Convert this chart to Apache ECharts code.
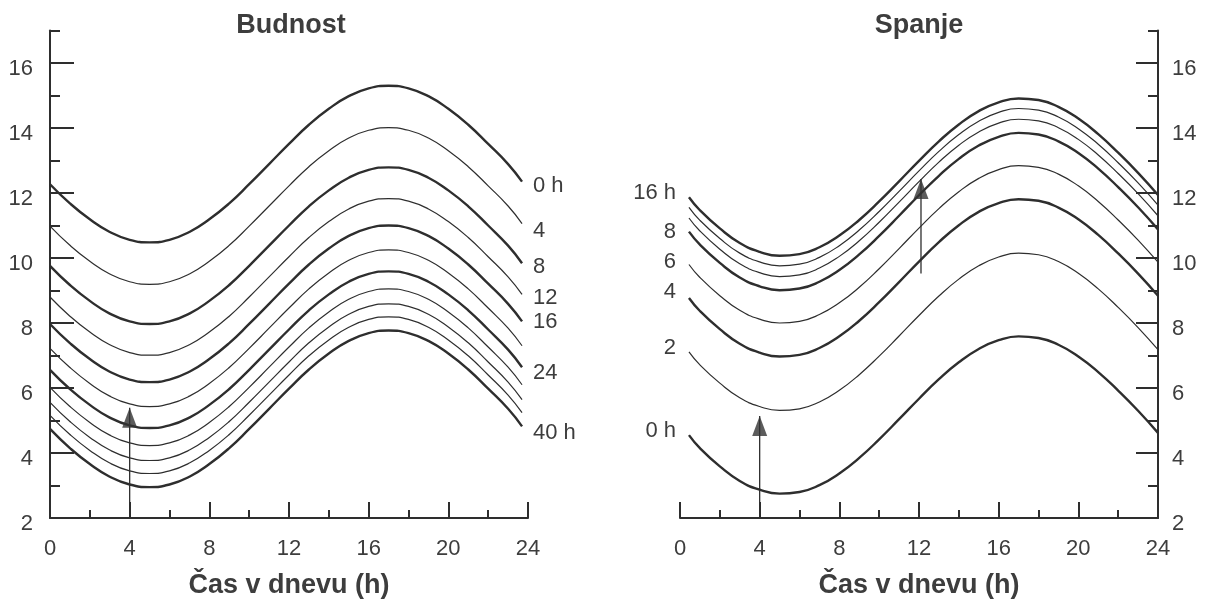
<!DOCTYPE html>
<html>
<head>
<meta charset="utf-8">
<script src="https://cdn.jsdelivr.net/npm/echarts@6/dist/echarts.min.js"></script>
<style>
html,body{margin:0;padding:0;background:#ffffff;}
#chart{width:1215px;height:599px;}
</style>
</head>
<body>
<div id="chart"></div>
<script>
// ---------- DATA ----------
const hoursL = [0,1,2,3,4,5,6,7,8,9,10,11,12,13,14,15,16,17,18,19,20,21,22,23,23.7];
const hoursR = [0.45,1,2,3,4,5,6,7,8,9,10,11,12,13,14,15,16,17,18,19,20,21,22,23,24];

// Budnost (wakefulness) curves, 0 h ... 40 h
const bud0h  = [12.27,11.68,11.19,10.80,10.56,10.48,10.56,10.80,11.19,11.68,12.27,12.89,13.51,14.10,14.59,14.98,15.22,15.30,15.22,14.98,14.59,14.10,13.51,12.89,12.35];
const bud4h  = [10.98,10.39,9.90,9.51,9.27,9.19,9.27,9.51,9.90,10.39,10.98,11.60,12.22,12.81,13.30,13.69,13.93,14.01,13.93,13.69,13.30,12.81,12.22,11.60,11.06];
const bud8h  = [9.76,9.17,8.68,8.29,8.05,7.97,8.05,8.29,8.68,9.17,9.76,10.38,11.00,11.59,12.08,12.47,12.71,12.79,12.71,12.47,12.08,11.59,11.00,10.38,9.84];
const bud12h = [8.80,8.21,7.72,7.33,7.09,7.01,7.09,7.33,7.72,8.21,8.80,9.42,10.04,10.63,11.12,11.51,11.75,11.83,11.75,11.51,11.12,10.63,10.04,9.42,8.88];
const bud16h = [7.97,7.38,6.89,6.50,6.26,6.18,6.26,6.50,6.89,7.38,7.97,8.59,9.21,9.80,10.29,10.68,10.92,11.00,10.92,10.68,10.29,9.80,9.21,8.59,8.05];
const bud20h = [7.22,6.63,6.14,5.75,5.51,5.43,5.51,5.75,6.14,6.63,7.22,7.84,8.46,9.05,9.54,9.93,10.17,10.25,10.17,9.93,9.54,9.05,8.46,7.84,7.30];
const bud24h = [6.56,5.97,5.48,5.09,4.85,4.77,4.85,5.09,5.48,5.97,6.56,7.18,7.80,8.39,8.88,9.27,9.51,9.59,9.51,9.27,8.88,8.39,7.80,7.18,6.64];
const bud28h = [6.02,5.43,4.94,4.55,4.31,4.23,4.31,4.55,4.94,5.43,6.02,6.64,7.26,7.85,8.34,8.73,8.97,9.05,8.97,8.73,8.34,7.85,7.26,6.64,6.10];
const bud32h = [5.56,4.97,4.48,4.09,3.85,3.77,3.85,4.09,4.48,4.97,5.56,6.18,6.80,7.39,7.88,8.27,8.51,8.59,8.51,8.27,7.88,7.39,6.80,6.18,5.64];
const bud36h = [5.16,4.57,4.08,3.69,3.45,3.37,3.45,3.69,4.08,4.57,5.16,5.78,6.40,6.99,7.48,7.87,8.11,8.19,8.11,7.87,7.48,6.99,6.40,5.78,5.24];
const bud40h = [4.74,4.15,3.66,3.27,3.03,2.95,3.03,3.27,3.66,4.15,4.74,5.36,5.98,6.57,7.06,7.45,7.69,7.77,7.69,7.45,7.06,6.57,5.98,5.36,4.82];

// Spanje (sleep) curves, top (16 h) to bottom (0 h)
const spa16h = [11.87,11.47,10.91,10.46,10.19,10.07,10.12,10.33,10.69,11.17,11.74,12.36,12.99,13.59,14.11,14.52,14.79,14.91,14.86,14.65,14.29,13.81,13.24,12.62,11.94];
const spa12h = [11.56,11.16,10.60,10.15,9.88,9.76,9.81,10.02,10.38,10.86,11.43,12.05,12.68,13.28,13.80,14.21,14.48,14.60,14.55,14.34,13.98,13.50,12.93,12.31,11.63];
const spa10h = [11.23,10.83,10.27,9.82,9.55,9.43,9.48,9.69,10.05,10.53,11.10,11.72,12.35,12.95,13.47,13.88,14.15,14.27,14.22,14.01,13.65,13.17,12.60,11.98,11.30];
const spa8h  = [10.81,10.41,9.85,9.40,9.13,9.01,9.06,9.27,9.63,10.11,10.68,11.30,11.93,12.53,13.05,13.46,13.73,13.85,13.80,13.59,13.23,12.75,12.18,11.56,10.88];
const spa6h  = [9.80,9.40,8.84,8.39,8.12,8.00,8.05,8.26,8.62,9.10,9.67,10.29,10.92,11.52,12.04,12.45,12.72,12.84,12.79,12.58,12.22,11.74,11.17,10.55,9.87];
const spa4h  = [8.77,8.37,7.81,7.36,7.09,6.97,7.02,7.23,7.59,8.07,8.64,9.26,9.89,10.49,11.01,11.42,11.69,11.81,11.76,11.55,11.19,10.71,10.14,9.52,8.84];
const spa2h  = [7.11,6.71,6.15,5.70,5.43,5.31,5.36,5.57,5.93,6.41,6.98,7.60,8.23,8.83,9.35,9.76,10.03,10.15,10.10,9.89,9.53,9.05,8.48,7.86,7.18];
const spa0h  = [4.55,4.15,3.59,3.14,2.87,2.75,2.80,3.01,3.37,3.85,4.42,5.04,5.67,6.27,6.79,7.20,7.47,7.59,7.54,7.33,6.97,6.49,5.92,5.30,4.62];

// curve labels (empty = unlabeled)
const budLabels = ['0 h','4','8','12','16','','24','','','','40 h'];
const spaLabels = ['16 h','','','8','6','4','2','0 h'];

// arrows: [x, start value, tip value]
const arrowsBud = [[4, 2, 5.39]];
const arrowsSpa = [[4, 2, 5.14], [12.1, 9.52, 12.43]];

// ticks
const xTickLabels = [0,4,8,12,16,20,24];
const yTickLabels = [2,4,6,8,10,12,14,16];
const yMajorTicks = [4,6,8,10,12,14,16];
const yMinorTicks = [3,5,7,9,11,13,15,17];

// ---------- STYLE ----------
const FONT = '"Liberation Sans", Arial, Helvetica, sans-serif';
const TXT = '#3d3d3d';
const INK = '#2e2e2e';

const budCurves = [bud0h,bud4h,bud8h,bud12h,bud16h,bud20h,bud24h,bud28h,bud32h,bud36h,bud40h];
const budThick  = [true,false,true,false,true,false,true,false,false,false,true];
const budDy     = [4,7,4,4,1,0,6,0,0,0,7];

const spaCurves = [spa16h,spa12h,spa10h,spa8h,spa6h,spa4h,spa2h,spa0h];
const spaThick  = [true,false,false,true,false,true,false,true];
const spaDy     = [-4,0,0,0,-3,-6,-4,-4];

function labelled(hours, vals, idx, text, side, dy) {
  return hours.map((h, i) => {
    if (i !== idx || !text) return [h, vals[i]];
    return {
      value: [h, vals[i]],
      symbol: 'circle',
      symbolSize: 2,
      itemStyle: { color: 'rgba(0,0,0,0)', borderWidth: 0 },
      label: {
        show: true, formatter: text, position: side,
        distance: side === 'right' ? 10 : 12,
        offset: [0, dy],
        fontSize: 22, color: TXT, fontFamily: FONT
      }
    };
  });
}

const series = [];
budCurves.forEach((vals, k) => {
  series.push({
    type: 'line', xAxisIndex: 0, yAxisIndex: 0,
    smooth: 0.5, symbol: 'none', showSymbol: true,
    silent: true, animation: false, z: 3,
    lineStyle: { color: INK, width: budThick[k] ? 2.4 : 1.2 },
    data: labelled(hoursL, vals, hoursL.length - 1, budLabels[k], 'right', budDy[k])
  });
});
spaCurves.forEach((vals, k) => {
  series.push({
    type: 'line', xAxisIndex: 1, yAxisIndex: 1,
    smooth: 0.5, symbol: 'none', showSymbol: true,
    silent: true, animation: false, z: 3,
    lineStyle: { color: INK, width: spaThick[k] ? 2.4 : 1.2 },
    data: labelled(hoursR, vals, 0, spaLabels[k], 'left', spaDy[k])
  });
});

function addArrows(list, gi) {
  list.forEach(a => {
    series.push({
      type: 'line', xAxisIndex: gi, yAxisIndex: gi, symbol: 'none',
      silent: true, animation: false, z: 5,
      lineStyle: { color: INK, width: 1.3 },
      data: [[a[0], a[1]], [a[0], a[2]]]
    });
  });
  series.push({
    type: 'scatter', xAxisIndex: gi, yAxisIndex: gi,
    symbol: 'triangle', symbolSize: [15, 20], symbolOffset: [0, '50%'],
    silent: true, animation: false, z: 6,
    itemStyle: { color: '#333333' },
    data: list.map(a => [a[0], a[2]])
  });
}
addArrows(arrowsBud, 0);
addArrows(arrowsSpa, 1);

function xAxisCfg(gi, majorTicks) {
  return {
    type: 'value', gridIndex: gi, min: 0, max: 24, interval: 4, position: 'bottom',
    axisLine: { show: true, onZero: false, lineStyle: { color: INK, width: 2 } },
    axisTick: { show: true, inside: true, length: 16, customValues: majorTicks,
                lineStyle: { color: INK, width: 2 } },
    minorTick: { show: true, splitNumber: 2, length: 8, lineStyle: { color: INK, width: 2 } },
    axisLabel: { show: true, margin: 20, fontSize: 22, color: TXT, fontFamily: FONT,
                 customValues: xTickLabels },
    splitLine: { show: false }, minorSplitLine: { show: false },
    name: 'Čas v dnevu (h)', nameLocation: 'middle', nameGap: 54,
    nameTextStyle: { fontSize: 27, fontWeight: 'bold', color: TXT, fontFamily: FONT }
  };
}
function yAxisCfg(gi, pos, tickLen, margin) {
  return {
    type: 'value', gridIndex: gi, min: 2, max: 17, interval: 2, position: pos,
    axisLine: { show: true, onZero: false, lineStyle: { color: INK, width: 2 } },
    axisTick: { show: true, inside: true, length: tickLen, customValues: yMajorTicks,
                lineStyle: { color: INK, width: 2 } },
    axisLabel: { show: true, margin: margin, fontSize: 22, color: TXT, fontFamily: FONT,
                 verticalAlign: 'top', lineHeight: 11, customValues: yTickLabels },
    splitLine: { show: false }, minorSplitLine: { show: false }
  };
}
function yMinorAxisCfg(gi, pos) {
  return {
    type: 'value', gridIndex: gi, min: 2, max: 17, interval: 1, position: pos,
    axisLine: { show: false, onZero: false },
    axisTick: { show: true, inside: true, length: 10, customValues: yMinorTicks,
                lineStyle: { color: INK, width: 2 } },
    axisLabel: { show: false },
    splitLine: { show: false }
  };
}

const option = {
  backgroundColor: '#ffffff',
  animation: false,
  grid: [
    { left: 50, right: 687, top: 30.5, bottom: 81, outerBoundsMode: 'none', containLabel: false },
    { left: 680, right: 57, top: 30.5, bottom: 81, outerBoundsMode: 'none', containLabel: false }
  ],
  xAxis: [ xAxisCfg(0, [4,8,12,16,20,24]), xAxisCfg(1, [0,4,8,12,16,20]) ],
  yAxis: [ yAxisCfg(0, 'left', 24, 17), yAxisCfg(1, 'right', 22, 14),
           yMinorAxisCfg(0, 'left'), yMinorAxisCfg(1, 'right') ],
  graphic: [
    { type: 'text', x: 291, y: 26, silent: true,
      style: { text: 'Budnost', align: 'center', verticalAlign: 'middle', fill: TXT,
               fontSize: 27, fontWeight: 'bold', fontFamily: FONT } },
    { type: 'text', x: 919, y: 26, silent: true,
      style: { text: 'Spanje', align: 'center', verticalAlign: 'middle', fill: TXT,
               fontSize: 27, fontWeight: 'bold', fontFamily: FONT } }
  ],
  series: series
};

const chart = echarts.init(document.getElementById('chart'), null, { renderer: 'canvas' });
chart.setOption(option);
</script>
</body>
</html>
